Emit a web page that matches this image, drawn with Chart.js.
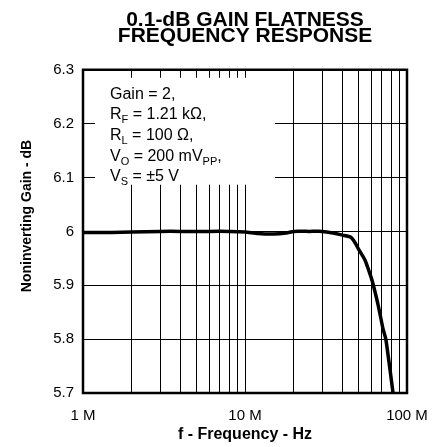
<!DOCTYPE html>
<html><head><meta charset="utf-8">
<script src="https://cdn.jsdelivr.net/npm/chart.js@4.4.1/dist/chart.umd.min.js"></script>
<style>html,body{margin:0;padding:0;background:#fff}</style>
</head><body>
<canvas id="c" width="436" height="447"></canvas>
<script>
// ---- data ----
const titleLines = ['0.1-dB GAIN FLATNESS', 'FREQUENCY RESPONSE'];
const xAxisTitle = 'f - Frequency - Hz';
const yAxisTitle = 'Noninverting Gain - dB';

const freqMHz = [1, 1.5, 2, 3, 4, 5, 6, 8, 10, 12, 15, 18, 20, 25, 30, 35, 40, 45, 48, 50, 55, 60, 62, 65, 68, 71, 74, 78, 82];
const gainDb  = [5.998, 5.998, 5.999, 6.0, 6.0, 6.0, 6.0, 6.0, 5.999, 5.996, 5.995, 5.997, 6.0, 6.0, 6.0, 5.997, 5.993, 5.989, 5.978, 5.968, 5.947, 5.915, 5.90, 5.875, 5.848, 5.82, 5.80, 5.75, 5.70];

const xTickValues = [1, 2, 3, 4, 5, 6, 7, 8, 9, 10, 20, 30, 40, 50, 60, 70, 80, 90, 100];
const xTickLabels = { 1: '1 M', 10: '10 M', 100: '100 M' };
const yTickValues = [5.7, 5.8, 5.9, 6.0, 6.1, 6.2, 6.3];
const yTickLabels = ['5.7', '5.8', '5.9', '6', '6.1', '6.2', '6.3'];

// annotation lines: [text, isSubscript]
const noteLines = [
  [['Gain = 2,', false]],
  [['R', false], ['F', true], [' = 1.21 k\u03A9,', false]],
  [['R', false], ['L', true], [' = 100 \u03A9,', false]],
  [['V', false], ['O', true], [' = 200 mV', false], ['PP', true], [',', false]],
  [['V', false], ['S', true], [' = \u00B15 V', false]]
];

const FONT = '"Liberation Sans", Arial, sans-serif';

const notePlugin = {
  id: 'noteBox',
  beforeDatasetsDraw(chart) {
    const a = chart.chartArea, ctx = chart.ctx;
    ctx.save();
    ctx.fillStyle = '#fff';
    ctx.fillRect(a.left + 12, a.top + 8, 180, 107);
    ctx.fillStyle = '#000';
    ctx.textBaseline = 'alphabetic';
    ctx.textAlign = 'left';
    noteLines.forEach((segs, i) => {
      let x = a.left + 27;
      const y = a.top + 29 + i * 20.6;
      segs.forEach(([t, sub]) => {
        ctx.font = (sub ? '11px ' : '16px ') + FONT;
        ctx.fillText(t, x, sub ? y + 4 : y);
        x += ctx.measureText(t).width;
      });
    });
    ctx.restore();
  },
  afterDatasetsDraw(chart) {
    const a = chart.chartArea, ctx = chart.ctx;
    ctx.save();
    ctx.strokeStyle = '#000';
    ctx.lineWidth = 2.5;
    ctx.strokeRect(a.left, a.top, a.right - a.left, a.bottom - a.top);
    ctx.restore();
  },
  afterDraw(chart) {
    const ctx = chart.ctx;
    ctx.save();
    ctx.translate(27, 216);
    ctx.rotate(-Math.PI / 2);
    ctx.font = 'bold 14px ' + FONT;
    ctx.fillStyle = '#000';
    ctx.textAlign = 'center';
    ctx.textBaseline = 'middle';
    ctx.fillText(yAxisTitle, 0, 0);
    ctx.restore();
  }
};

new Chart(document.getElementById('c'), {
  type: 'line',
  data: {
    datasets: [{
      data: freqMHz.map((f, i) => ({ x: f, y: gainDb[i] })),
      borderColor: '#000',
      borderWidth: 3.5,
      pointRadius: 0,
      tension: 0.2,
      fill: false
    }]
  },
  options: {
    responsive: false,
    devicePixelRatio: 1,
    animation: false,
    layout: { padding: { left: 0, right: 29, top: 0, bottom: 0 } },
    plugins: {
      legend: { display: false },
      tooltip: { enabled: false },
      title: {
        display: true,
        text: titleLines,
        fullSize: false,
        color: '#000',
        font: { family: FONT, size: 21, weight: 'bold', lineHeight: 0.78 },
        padding: { top: 12, bottom: 25 }
      }
    },
    scales: {
      x: {
        type: 'logarithmic',
        min: 1, max: 100,
        afterBuildTicks: s => { s.ticks = xTickValues.map(v => ({ value: v })); },
        afterFit: s => { s.height = 54; s.paddingLeft = 0; s.paddingRight = 0; },
        grid: { color: '#000', lineWidth: 1, drawTicks: false },
        border: { display: false },
        ticks: {
          autoSkip: false, maxRotation: 0, padding: 14,
          color: '#000', font: { family: FONT, size: 15 },
          callback: v => xTickLabels[v] || ''
        },
        title: {
          display: true, text: xAxisTitle, color: '#000',
          font: { family: FONT, size: 16, weight: 'bold' },
          padding: { top: 0, bottom: 3 }
        }
      },
      y: {
        type: 'linear',
        min: 5.7, max: 6.3,
        afterBuildTicks: s => { s.ticks = yTickValues.map(v => ({ value: v })); },
        afterFit: s => { s.width = 83; },
        grid: { color: '#000', lineWidth: 1, drawTicks: false },
        border: { display: false },
        ticks: {
          padding: 9, color: '#000', font: { family: FONT, size: 15 },
          callback: (v, i) => yTickLabels[i]
        }
      }
    }
  },
  plugins: [notePlugin]
});
</script>
</body></html>
